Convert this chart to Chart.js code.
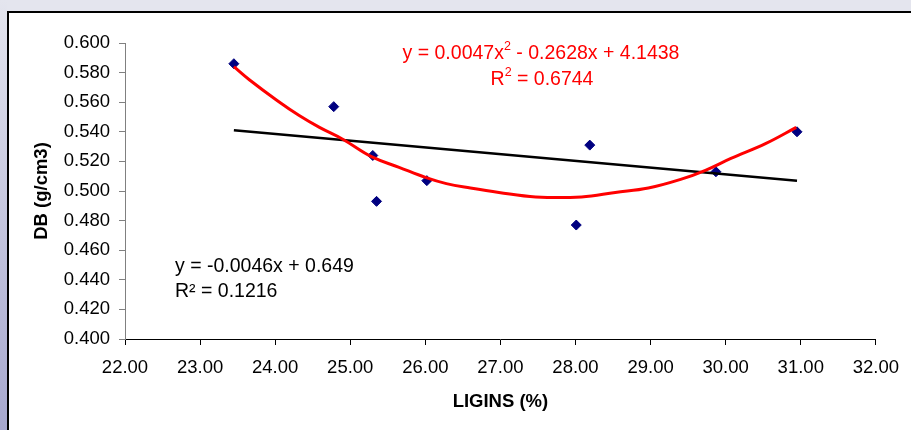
<!DOCTYPE html>
<html>
<head>
<meta charset="utf-8">
<script src="https://cdn.jsdelivr.net/npm/chart.js"></script>
<style>
html, body { margin: 0; padding: 0; }
body { width: 911px; height: 430px; overflow: hidden; position: relative; background: #e4e5ee; }
#side { position: absolute; left: 0; top: 0; width: 7px; height: 430px; background: linear-gradient(#e4e5ee, #a6a7cd); }
#box { position: absolute; left: 7px; top: 11px; right: 0; bottom: 0; background: #fff; border-left: 2px solid #000; border-top: 2px solid #000; }
#wrap { position: absolute; left: 0; top: 0; width: 911px; height: 430px; }
</style>
</head>
<body>
<div id="side"></div>
<div id="box"></div>
<div id="wrap"><canvas id="chart" width="911" height="430"></canvas></div>
<script>
// mesures (lignines % / densité)
const ligins = [23.45, 24.78, 25.30, 25.35, 26.02, 28.01, 28.19, 29.87, 30.95];
const density = [0.586, 0.557, 0.524, 0.493, 0.507, 0.477, 0.531, 0.513, 0.540];

// courbe de tendance polynomiale
const polyX = [23.45, 23.66, 24.03, 24.32, 24.59, 24.90, 25.29, 25.65, 26.01, 26.28, 26.60, 26.98, 27.47, 28.08, 28.53, 28.97, 29.41, 29.73, 30.07, 30.53, 30.94];
const polyY = [0.584, 0.575, 0.561, 0.551, 0.543, 0.535, 0.523, 0.516, 0.509, 0.505, 0.502, 0.499, 0.496, 0.496, 0.499, 0.502, 0.508, 0.514, 0.522, 0.532, 0.543];

// tendance linéaire
const linX = [23.45, 30.95];
const linY = [0.541, 0.507];

const FONT = 'Liberation Sans, Arial, sans-serif';
const SZ = 18.5;
const NOTE = 19.5;

const toPts = (xs, ys) => xs.map((x, i) => ({ x: x, y: ys[i] }));

// texte avec exposant
function richText(ctx, parts, x, y, align) {
  let w = 0;
  parts.forEach(p => {
    ctx.font = (p.sup ? 12.5 : NOTE) + 'px ' + FONT;
    p.w = ctx.measureText(p.t).width;
    w += p.w;
  });
  let cx = align === 'center' ? x - w / 2 : x;
  parts.forEach(p => {
    ctx.font = (p.sup ? 12.5 : NOTE) + 'px ' + FONT;
    ctx.fillText(p.t, cx, p.sup ? y - 7 : y);
    cx += p.w;
  });
}

const labels = {
  id: 'labels',
  afterDatasetsDraw(chart) {
    const ctx = chart.ctx;
    ctx.save();
    ctx.textBaseline = 'middle';
    ctx.textAlign = 'left';
    ctx.fillStyle = '#ff0000';
    richText(ctx, [{ t: 'y = 0.0047x' }, { t: '2', sup: true }, { t: ' - 0.2628x + 4.1438' }], 541, 54, 'center');
    richText(ctx, [{ t: 'R' }, { t: '2', sup: true }, { t: ' = 0.6744' }], 542, 80, 'center');
    ctx.fillStyle = '#000';
    ctx.font = NOTE + 'px ' + FONT;
    ctx.fillText('y = -0.0046x + 0.649', 175, 267);
    ctx.fillText('R\u00b2 = 0.1216', 175, 292);
    ctx.restore();
  }
};

new Chart(document.getElementById('chart'), {
  type: 'scatter',
  data: {
    datasets: [
      {
        data: toPts(ligins, density),
        pointStyle: 'rectRot',
        pointRadius: 5,
        backgroundColor: '#000080',
        borderColor: '#000080',
        order: 3
      },
      {
        data: toPts(polyX, polyY),
        showLine: true,
        pointRadius: 0,
        borderColor: '#ff0000',
        borderWidth: 3,
        tension: 0.4,
        order: 1
      },
      {
        data: toPts(linX, linY),
        showLine: true,
        pointRadius: 0,
        borderColor: '#000',
        borderWidth: 2.5,
        order: 2
      }
    ]
  },
  options: {
    responsive: false,
    animation: false,
    layout: { padding: { left: 0, top: 43, right: 33, bottom: 0 } },
    plugins: { legend: { display: false }, tooltip: { enabled: false } },
    scales: {
      x: {
        type: 'linear',
        min: 22,
        max: 32,
        afterFit: s => { s.height = 91; },
        ticks: { stepSize: 1, color: '#000', padding: 12, font: { family: FONT, size: SZ }, callback: v => v.toFixed(2) },
        grid: { drawOnChartArea: false, tickLength: 6, tickColor: '#000' },
        border: { color: '#000', width: 1 },
        title: { display: true, text: 'LIGINS (%)', color: '#000', padding: { bottom: 17 }, font: { family: FONT, size: SZ, weight: 'bold' } }
      },
      y: {
        min: 0.4,
        max: 0.6,
        afterFit: s => { s.width = 125; },
        ticks: { stepSize: 0.02, color: '#000', padding: 9, font: { family: FONT, size: SZ }, callback: v => v.toFixed(3) },
        grid: { drawOnChartArea: false, tickLength: 6, tickColor: '#808080' },
        border: { color: '#808080', width: 1 },
        title: { display: true, text: 'DB (g/cm3)', color: '#000', padding: { top: 31 }, font: { family: FONT, size: SZ, weight: 'bold' } }
      }
    }
  },
  plugins: [labels]
});
</script>
</body>
</html>
